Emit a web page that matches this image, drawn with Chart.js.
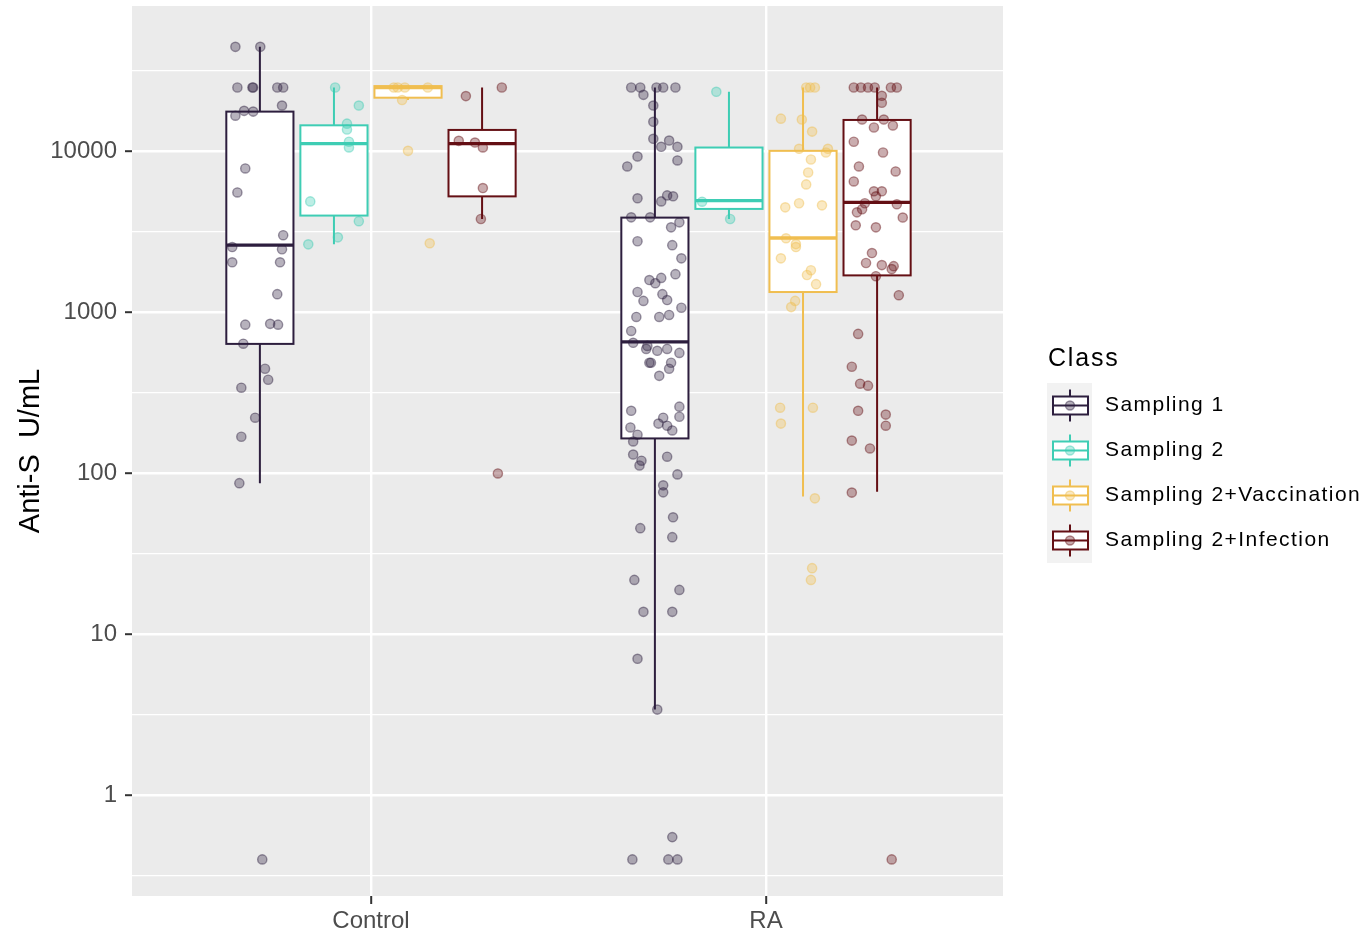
<!DOCTYPE html>
<html>
<head>
<meta charset="utf-8">
<title>Anti-S U/mL by class</title>
<script src="https://cdn.jsdelivr.net/npm/chart.js@4.4.1/dist/chart.umd.min.js"></script>
<style>
  html, body { margin: 0; padding: 0; background: #ffffff; overflow: hidden; }
  #wrap { width: 1363px; height: 931px; position: relative; }
</style>
</head>
<body>
<div id="wrap"><canvas id="antiSChart"></canvas></div>
<script>
// categories, classes and axis ticks
const categories = ["Control", "RA"];
const classNames = ["Sampling 1", "Sampling 2", "Sampling 2+Vaccination", "Sampling 2+Infection"];
const yMajorTicks = [1, 10, 100, 1000, 10000];
const yMinorTicks = [0.3162, 3.162, 31.62, 316.2, 3162, 31623];

// box stats: [lower whisker, q1, median, q3, upper whisker]
const s1ControlBox = [87, 638, 2620, 17700, 44700];
const s2ControlBox = [2650, 4000, 11200, 14550, 25000];
const s3ControlBox = [20900, 21600, 25000, 25500, 25500];
const s4ControlBox = [3810, 5265, 11200, 13620, 25000];
const s1RaBox = [3.41, 165, 657, 3885, 25000];
const s2RaBox = [3810, 4400, 4955, 10590, 23500];
const s3RaBox = [72, 1340, 2905, 10100, 25000];
const s4RaBox = [77, 1700, 4835, 15710, 25000];

// jittered points: values and horizontal jitter (x units, from the box centre)
const s1ControlValues = [44700, 44700, 25000, 25000, 25000, 25000, 25000, 19300, 16700, 17900, 17700, 7850, 5570, 3020, 2550, 2470, 2050, 2050, 1300, 840, 850, 840, 640, 447, 382, 341, 222, 169, 87, 0.4];
const s1ControlJitter = [-0.062, 0.001, -0.057, -0.019, -0.017, 0.044, 0.059, 0.056, -0.062, -0.040, -0.017, -0.037, -0.057, 0.059, -0.070, 0.056, -0.070, 0.051, 0.044, -0.037, 0.026, 0.046, -0.042, 0.013, 0.021, -0.047, -0.012, -0.047, -0.052, 0.006];

const s2ControlValues = [25000, 19300, 14900, 13700, 11500, 10600, 4900, 3690, 2930, 2650];
const s2ControlJitter = [0.003, 0.063, 0.033, 0.033, 0.038, 0.038, -0.060, 0.063, 0.010, -0.065];

const s3ControlValues = [25000, 25000, 25000, 25000, 20900, 10100, 2690];
const s3ControlJitter = [-0.036, -0.026, -0.008, 0.050, -0.015, 0.000, 0.055];

const s4ControlValues = [25000, 22100, 11650, 11370, 10600, 5930, 3810, 100];
const s4ControlJitter = [0.050, -0.041, -0.059, -0.018, 0.002, 0.002, -0.003, 0.040];

const s1RaValues = [25000, 25000, 22500, 25000, 25000, 25000, 19300, 15300, 12000, 11700,
  10700, 10700, 9310, 8075, 8800, 5120, 5340, 5270, 4900, 3900,
  3900, 3380, 3630, 2770, 2620, 2170, 1730, 1640, 1590, 1520,
  1340, 1300, 1180, 1195, 1070, 938, 938, 965, 768, 648,
  594, 578, 594, 561, 620, 487, 487, 487, 447, 404,
  245, 260, 225, 222, 204, 198, 185, 193, 174, 158,
  131, 120, 112, 127, 98.6, 84.3, 76.3, 53.4, 45.7, 40.2,
  21.8, 18.9, 13.8, 13.8, 7.05, 3.41, 0.55, 0.4, 0.4, 0.4];
const s1RaJitter = [-0.060, -0.037, -0.029, 0.004, 0.021, 0.052, -0.004, -0.004, -0.004, 0.036,
  0.016, 0.057, -0.044, -0.070, 0.057, -0.044, 0.031, 0.046, 0.016, -0.060,
  -0.012, 0.041, 0.062, -0.044, 0.044, 0.067, 0.052, 0.016, -0.014, 0.001,
  -0.044, 0.019, -0.029, 0.031, 0.067, -0.047, 0.011, 0.036, -0.060, -0.055,
  -0.022, 0.006, 0.031, 0.062, -0.019, -0.014, -0.010, 0.041, 0.036, 0.011,
  -0.060, 0.062, 0.062, 0.021, 0.009, 0.031, 0.044, -0.062, -0.044, -0.055,
  -0.055, -0.034, -0.039, 0.031, 0.057, 0.021, 0.021, 0.046, -0.037, 0.044,
  -0.052, 0.062, -0.029, 0.044, -0.044, 0.006, 0.044, -0.057, 0.034, 0.057];

const s2RaValues = [23500, 4880, 3810];
const s2RaJitter = [-0.032, -0.068, 0.003];

const s3RaValues = [25000, 25000, 25000, 16000, 15800, 13300, 10400, 10400, 9860, 8920,
  7410, 6250, 4500, 4770, 4630, 2890, 2660, 2550, 2170, 1830,
  1710, 1500, 1180, 1080, 256, 256, 204, 70, 25.8, 21.8];
const s3RaJitter = [0.008, 0.030, 0.018, -0.056, -0.003, 0.023, -0.010, 0.063, 0.058, 0.020,
  0.013, 0.008, -0.045, -0.010, 0.048, -0.043, -0.018, -0.018, -0.056, 0.020,
  0.010, 0.033, -0.020, -0.030, -0.058, 0.025, -0.056, 0.030, 0.023, 0.020];

const s4RaValues = [25000, 25000, 25000, 25000, 25000, 25000, 22200, 20100, 15800, 15800,
  14100, 14500, 11500, 9860, 8080, 7520, 6520, 5660, 5660, 5270,
  4770, 4700, 4380, 4190, 3890, 3480, 3380, 2340, 2030, 1970,
  1940, 1860, 1680, 1280, 736, 460, 361, 351, 245, 232,
  198, 160, 143, 76, 0.4];
const s4RaJitter = [-0.059, -0.041, -0.023, -0.006, 0.035, 0.050, 0.012, 0.012, -0.038, 0.017,
  -0.008, 0.040, -0.059, 0.015, -0.046, 0.047, -0.059, -0.008, 0.012, -0.003,
  -0.031, 0.050, -0.038, -0.051, 0.065, -0.054, -0.003, -0.013, -0.028, 0.012,
  0.042, 0.037, -0.003, 0.055, -0.048, -0.064, -0.043, -0.023, -0.048, 0.022,
  0.022, -0.064, -0.018, -0.064, 0.037];

// group table (class index, category index)
const groups = [
  { cls: 0, cat: 0, box: s1ControlBox, values: s1ControlValues, jitter: s1ControlJitter },
  { cls: 1, cat: 0, box: s2ControlBox, values: s2ControlValues, jitter: s2ControlJitter },
  { cls: 2, cat: 0, box: s3ControlBox, values: s3ControlValues, jitter: s3ControlJitter },
  { cls: 3, cat: 0, box: s4ControlBox, values: s4ControlValues, jitter: s4ControlJitter },
  { cls: 0, cat: 1, box: s1RaBox, values: s1RaValues, jitter: s1RaJitter },
  { cls: 1, cat: 1, box: s2RaBox, values: s2RaValues, jitter: s2RaJitter },
  { cls: 2, cat: 1, box: s3RaBox, values: s3RaValues, jitter: s3RaJitter },
  { cls: 3, cat: 1, box: s4RaBox, values: s4RaValues, jitter: s4RaJitter },
];

const classColors = [[45, 30, 62], [62, 205, 180], [240, 190, 80], [100, 15, 20]];
const dodge = [-0.28125, -0.09375, 0.09375, 0.28125];
const boxHalfWidth = 0.085;
const fontFamily = "'Liberation Sans', Arial, sans-serif";

const rgba = (c, a) => `rgba(${c[0]}, ${c[1]}, ${c[2]}, ${a})`;
const groupCentre = (g) => g.cat + 1 + dodge[g.cls];

const datasets = classNames.map((name, k) => ({
  label: name,
  data: groups.filter(g => g.cls === k).flatMap(g =>
    g.values.map((v, i) => ({ x: groupCentre(g) + g.jitter[i], y: v }))),
  pointRadius: 4.6,
  pointBorderWidth: 1.4,
  pointBackgroundColor: rgba(classColors[k], 0.34),
  pointBorderColor: rgba(classColors[k], 0.45),
}));

// grey panel behind the grid
const panelBackground = {
  id: "panelBackground",
  beforeDraw(chart) {
    const { ctx, chartArea: a } = chart;
    ctx.save();
    ctx.fillStyle = "#EBEBEB";
    ctx.fillRect(a.left, a.top, a.right - a.left, a.bottom - a.top);
    ctx.restore();
  },
};

// boxes and whiskers, placed through the chart scales
const boxplots = {
  id: "boxplots",
  beforeDatasetsDraw(chart) {
    const { ctx, chartArea: a, scales: { x, y } } = chart;
    ctx.save();
    ctx.beginPath();
    ctx.rect(a.left, a.top, a.right - a.left, a.bottom - a.top);
    ctx.clip();
    groups.forEach(g => {
      const c = groupCentre(g);
      const cx = x.getPixelForValue(c);
      const l = x.getPixelForValue(c - boxHalfWidth);
      const r = x.getPixelForValue(c + boxHalfWidth);
      const [lo, q1, med, q3, hi] = g.box.map(v => y.getPixelForValue(v));
      const col = rgba(classColors[g.cls], 1);
      ctx.strokeStyle = col;
      ctx.lineWidth = 2;
      ctx.beginPath();
      ctx.moveTo(cx, hi); ctx.lineTo(cx, q3);
      ctx.moveTo(cx, q1); ctx.lineTo(cx, lo);
      ctx.stroke();
      ctx.fillStyle = "#FFFFFF";
      ctx.fillRect(l, q3, r - l, q1 - q3);
      ctx.strokeRect(l, q3, r - l, q1 - q3);
      ctx.lineWidth = 3.4;
      ctx.beginPath();
      ctx.moveTo(l, med); ctx.lineTo(r, med);
      ctx.stroke();
    });
    ctx.restore();
  },
};

// ggplot style legend on the right
const classLegend = {
  id: "classLegend",
  afterDraw(chart) {
    const ctx = chart.ctx;
    const left = 1047, top = 383, row = 45;
    ctx.save();
    ctx.fillStyle = "#000000";
    ctx.textBaseline = "alphabetic";
    ctx.font = `25px ${fontFamily}`;
    if ("letterSpacing" in ctx) ctx.letterSpacing = "1.8px";
    ctx.fillText("Class", left + 1, 366);
    ctx.fillStyle = "#F2F2F2";
    ctx.fillRect(left, top, 45, row * classNames.length);
    classNames.forEach((name, k) => {
      const cy = top + row * k + row / 2;
      const cx = left + 23;
      const col = rgba(classColors[k], 1);
      ctx.strokeStyle = col;
      ctx.lineWidth = 2;
      ctx.beginPath();
      ctx.moveTo(cx, cy - 16); ctx.lineTo(cx, cy - 9);
      ctx.moveTo(cx, cy + 9); ctx.lineTo(cx, cy + 16);
      ctx.stroke();
      ctx.fillStyle = "#FFFFFF";
      ctx.fillRect(left + 6, cy - 9, 35, 18);
      ctx.strokeRect(left + 6, cy - 9, 35, 18);
      ctx.beginPath();
      ctx.moveTo(left + 6, cy); ctx.lineTo(left + 41, cy);
      ctx.stroke();
      ctx.beginPath();
      ctx.arc(cx, cy, 4.5, 0, Math.PI * 2);
      ctx.fillStyle = rgba(classColors[k], 0.36);
      ctx.fill();
      ctx.lineWidth = 1.4;
      ctx.strokeStyle = rgba(classColors[k], 0.45);
      ctx.stroke();
      ctx.fillStyle = "#000000";
      ctx.font = `21px ${fontFamily}`;
      if ("letterSpacing" in ctx) ctx.letterSpacing = "1.45px";
      ctx.textBaseline = "middle";
      ctx.fillText(name, left + 58, cy);
    });
    ctx.restore();
  },
};

const isMajor = (ctx) => ctx.tick && yMajorTicks.includes(ctx.tick.value);

new Chart(document.getElementById("antiSChart").getContext("2d"), {
  type: "scatter",
  data: { datasets },
  options: {
    responsive: true,
    maintainAspectRatio: false,
    animation: false,
    events: [],
    layout: { padding: { top: 3, right: 360, bottom: 0, left: 0 } },
    plugins: {
      legend: { display: false },
      tooltip: { enabled: false },
    },
    scales: {
      x: {
        type: "linear",
        min: 0.395,
        max: 2.6,
        afterBuildTicks: (scale) => {
          scale.ticks = categories.map((c, i) => ({ value: i + 1 }));
        },
        afterFit: (scale) => {
          scale.height = 35;
          scale.paddingLeft = 0;
          scale.paddingRight = 0;
        },
        ticks: {
          autoSkip: false,
          maxRotation: 0,
          padding: 3,
          color: "#4D4D4D",
          font: { family: fontFamily, size: 24 },
          callback: (v) => categories[Math.round(v) - 1],
        },
        grid: { color: "#FFFFFF", lineWidth: 2.4, tickColor: "#333333", tickLength: 8, tickWidth: 2 },
        border: { display: false },
      },
      y: {
        type: "logarithmic",
        min: 0.2369,
        max: 80200,
        afterBuildTicks: (scale) => {
          scale.ticks = [...yMinorTicks, ...yMajorTicks].sort((a, b) => a - b).map(v => ({ value: v }));
        },
        afterFit: (scale) => {
          scale.width = 132;
          scale.paddingTop = 0;
          scale.paddingBottom = 0;
        },
        ticks: {
          autoSkip: false,
          padding: 8,
          color: "#4D4D4D",
          font: { family: fontFamily, size: 24 },
          callback: (v) => (yMajorTicks.includes(v) ? String(v) : ""),
        },
        grid: {
          color: "#FFFFFF",
          lineWidth: (ctx) => (isMajor(ctx) ? 2.4 : 1.2),
          tickColor: (ctx) => (isMajor(ctx) ? "#333333" : "rgba(0,0,0,0)"),
          tickLength: 7,
          tickWidth: 2,
        },
        border: { display: false },
        title: {
          display: true,
          text: "Anti-S  U/mL",
          color: "#000000",
          font: { family: fontFamily, size: 29 },
          padding: { top: 14, bottom: 0 },
        },
      },
    },
  },
  plugins: [panelBackground, boxplots, classLegend],
});
</script>
</body>
</html>
